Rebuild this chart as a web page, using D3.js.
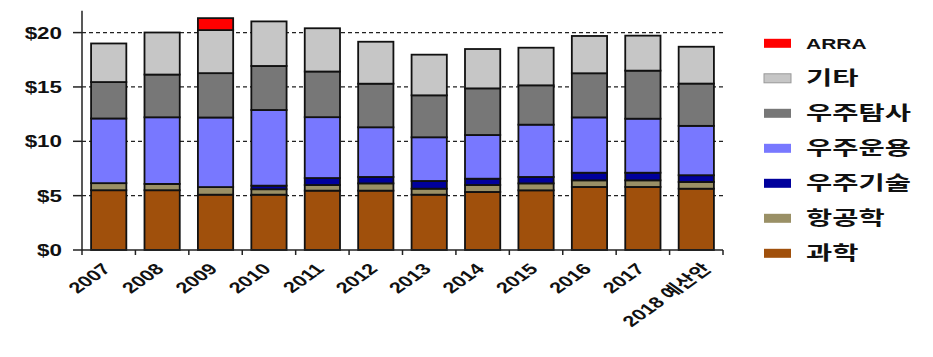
<!DOCTYPE html>
<html><head><meta charset="utf-8">
<script src="https://cdn.jsdelivr.net/npm/d3@7"></script>
<style>
html,body{margin:0;padding:0;background:#fff;}
text{font-family:"Liberation Sans","Noto Sans CJK KR",Arial,sans-serif;font-weight:bold;fill:#111;}
text.kr{font-family:"Noto Sans CJK KR","Liberation Sans",sans-serif;}
</style></head>
<body>
<svg id="chart" width="933" height="357"></svg>
<script>
const categories = ["2007","2008","2009","2010","2011","2012","2013","2014","2015","2016","2017","2018 예산안"];
const seriesNames = ["과학","항공학","우주기술","우주운용","우주탐사","기타","ARRA"];
const science     = [5.50,5.50,5.09,5.09,5.46,5.46,5.09,5.34,5.49,5.80,5.80,5.64];
const aeronautics = [0.65,0.58,0.70,0.50,0.52,0.67,0.55,0.64,0.64,0.61,0.61,0.62];
const spaceTech   = [0,0,0,0.33,0.64,0.59,0.71,0.58,0.59,0.70,0.70,0.62];
const spaceOps    = [5.95,6.13,6.40,6.96,5.60,4.57,4.02,4.02,4.81,5.09,4.97,4.54];
const exploration = [3.35,3.93,4.08,4.05,4.20,4.01,3.86,4.29,3.62,4.06,4.42,3.89];
const other       = [3.55,3.87,3.96,4.10,3.98,3.86,3.74,3.62,3.46,3.43,3.22,3.39];
const arra        = [0,0,1.10,0,0,0,0,0,0,0,0,0];
const yTicks = [0,5,10,15,20];
const yTickLabels = ["$0","$5","$10","$15","$20"];
const colors = ["#a0500c","#9a9066","#00009c","#7878ff","#777777","#c6c6c6","#ff0000"];

const seriesValues = [science,aeronautics,spaceTech,spaceOps,exploration,other,arra];
const rows = categories.map((c,i)=>{const r={cat:c}; seriesNames.forEach((s,j)=>r[s]=seriesValues[j][i]); return r;});
const stacked = d3.stack().keys(seriesNames)(rows);

const svg = d3.select("#chart");
const left=82, right=723, bottom=250;
const x = d3.scaleBand().domain(categories).range([left,right]).paddingInner(0.34).paddingOuter(0.17);
const y = d3.scaleLinear().domain([0,22]).range([bottom, bottom-22*10.87]);
const SX = 1.4;

// gridlines
svg.append("g").selectAll("line").data(yTicks.filter(t=>t>0)).join("line")
  .attr("x1",left).attr("x2",right).attr("y1",d=>y(d)).attr("y2",d=>y(d))
  .attr("stroke","#222").attr("stroke-width",1.3).attr("stroke-dasharray","4,3");

// bars
const color = d3.scaleOrdinal().domain(seriesNames).range(colors);
svg.append("g").selectAll("g").data(stacked).join("g")
  .attr("fill",d=>color(d.key))
  .selectAll("rect").data(d=>d.filter(p=>p[1]-p[0]>0)).join("rect")
  .attr("x",d=>x(d.data.cat)).attr("width",x.bandwidth())
  .attr("y",d=>y(d[1])).attr("height",d=>y(d[0])-y(d[1]))
  .attr("stroke","#111").attr("stroke-width",1.8);

// y axis
svg.append("line").attr("x1",left).attr("x2",left).attr("y1",y(22)).attr("y2",bottom).attr("stroke","#222").attr("stroke-width",1.5);
svg.append("g").selectAll("line").data(yTicks).join("line")
  .attr("x1",left-9).attr("x2",left).attr("y1",d=>y(d)).attr("y2",d=>y(d)).attr("stroke","#222").attr("stroke-width",1.5);
svg.append("g").selectAll("text").data(yTicks).join("text")
  .attr("transform",d=>`translate(62,${y(d)+6}) scale(${SX},1)`)
  .attr("text-anchor","end").style("font-size","16px")
  .text((d,i)=>yTickLabels[i]);

// x axis
svg.append("line").attr("x1",left).attr("x2",right).attr("y1",bottom).attr("y2",bottom).attr("stroke","#222").attr("stroke-width",1.5);
const step = x.step();
svg.append("g").selectAll("line").data(d3.range(categories.length+1)).join("line")
  .attr("x1",i=>left+i*step).attr("x2",i=>left+i*step).attr("y1",bottom).attr("y2",bottom+5).attr("stroke","#222").attr("stroke-width",1.5);
svg.append("g").selectAll("text").data(categories).join("text")
  .attr("transform",(d,i)=>`translate(${x(d)+x.bandwidth()/2+(i===categories.length-1?16:3)},${bottom+20}) scale(${SX},1) rotate(-45)`)
  .attr("text-anchor","end").style("font-size","15.5px")
  .text(d=>d);

// legend
const legendOrder = ["ARRA","기타","우주탐사","우주운용","우주기술","항공학","과학"];
const lg = svg.append("g").selectAll("g").data(legendOrder).join("g")
  .attr("transform",(d,i)=>`translate(764,${43.3+i*35})`);
lg.append("rect").attr("x",0).attr("y",-4.5).attr("width",27).attr("height",9)
  .attr("fill",d=>color(d)).attr("stroke",d=>d==="기타"?"#999":"none").attr("stroke-width",1);
lg.append("text").attr("class",d=>d==="ARRA"?null:"kr")
  .attr("transform",d=>d==="ARRA"?`translate(42,5.5) scale(${SX},1)`:`translate(42,7) scale(1.5,1)`)
  .style("font-size",d=>d==="ARRA"?"15px":"19px").text(d=>d);
</script>
</body></html>
